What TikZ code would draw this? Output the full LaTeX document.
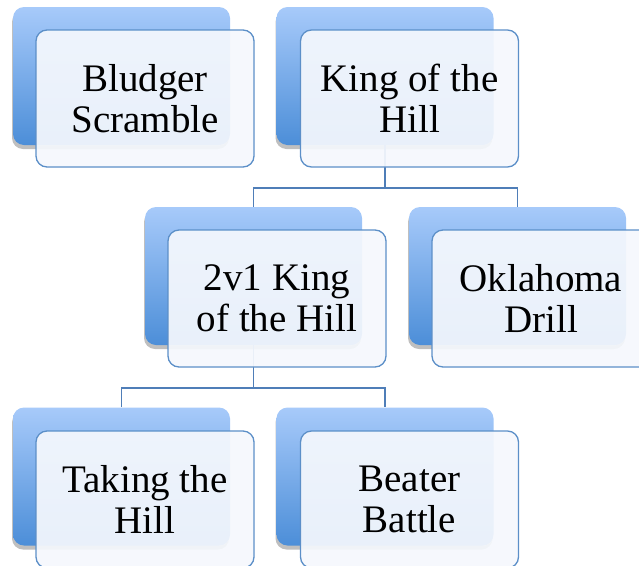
\documentclass[tikz,border=0pt]{standalone}
\usepackage{fontspec}
\setmainfont{Liberation Serif}
\usetikzlibrary{shadows}
\definecolor{backtop}{RGB}{167,202,250}
\definecolor{backbot}{RGB}{76,142,216}
\definecolor{frontfill}{RGB}{245,248,253}
\definecolor{frontline}{RGB}{92,143,200}
\definecolor{linkcol}{RGB}{79,126,184}
\tikzset{
  backbox/.style={rectangle, rounded corners=11pt, minimum width=217pt, minimum height=138pt,
    top color=backtop, bottom color=backbot, draw=none,
    drop shadow={shadow xshift=-1pt, shadow yshift=-4pt, opacity=0.25, fill=black}},
  frontbox/.style={rectangle, rounded corners=11pt, minimum width=218pt, minimum height=137pt,
    draw=frontline, line width=1.3pt, fill=frontfill, fill opacity=0.93, text opacity=1,
    align=center, font=\fontsize{39}{41}\selectfont, inner sep=0pt},
  link/.style={draw=linkcol, line width=1.5pt}
}
\begin{document}
\begin{tikzpicture}[x=1pt, y=-1pt]
\useasboundingbox (0,0) rectangle (639,565);
\clip (0,0) rectangle (639,565);
% back boxes
\node[backbox] (bb) at (121.5,76) {};
\node[backbox] (kb) at (385,76) {};
\node[backbox] (vb) at (253.5,276) {};
\node[backbox] (ob) at (517.5,276) {};
\node[backbox] (tb) at (121.5,476.5) {};
\node[backbox] (eb) at (385,476.5) {};
% connectors
\draw[link] (kb.south) -- ++(0,43) coordinate (kh) -| (vb.north);
\draw[link] (kh) -| (ob.north);
\draw[link] (vb.south) -- ++(0,43) coordinate (vh) -| (tb.north);
\draw[link] (vh) -| (eb.north);
% front boxes
\node[frontbox] (bf) at (145,98.5) {Bludger\\Scramble};
\node[frontbox] (kf) at (409.5,98.5) {King of the\\Hill};
\node[frontbox] (vf) at (277,298.5) {2v1 King\\of the Hill};
\node[frontbox] (of) at (541,298.5) {Oklahoma\\Drill};
\node[frontbox] (tf) at (145,499.5) {Taking the\\Hill};
\node[frontbox] (ef) at (409.5,499.5) {Beater\\Battle};
\end{tikzpicture}
\end{document}
